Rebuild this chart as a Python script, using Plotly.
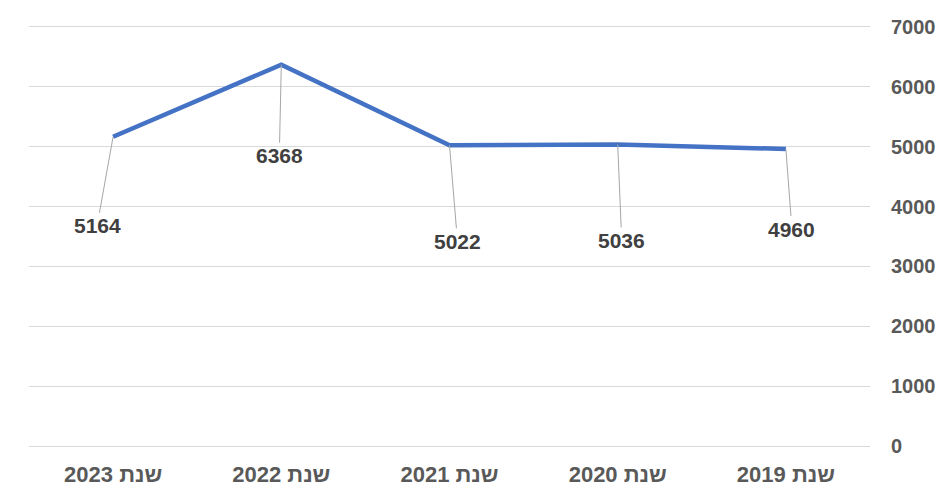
import plotly.graph_objects as go

# Yearly totals, shown newest year on the left
categories = ["שנת 2023", "שנת 2022", "שנת 2021", "שנת 2020", "שנת 2019"]
values = [5164, 6368, 5022, 5036, 4960]
y_ticks = [0, 1000, 2000, 3000, 4000, 5000, 6000, 7000]

# Pixel offsets of each value label from its point (leader-line callouts)
label_dx = [-16, -2, 8, 4, 6]
label_dy = [89, 91, 96, 96, 80]

fig = go.Figure()
fig.add_trace(go.Scatter(
    x=categories,
    y=values,
    mode="lines",
    line=dict(color="#4472C4", width=4.5),
    hoverinfo="x+y",
    showlegend=False,
))

for cat, val, dx, dy in zip(categories, values, label_dx, label_dy):
    fig.add_annotation(
        x=cat, y=val, xref="x", yref="y",
        text=str(val),
        showarrow=True, arrowhead=0, arrowwidth=1, arrowcolor="#A6A6A6",
        ax=dx, ay=dy, standoff=0, startstandoff=0,
        font=dict(family="Liberation Sans, Arial", size=21, color="#404040", weight="bold"),
    )

fig.update_layout(
    width=950, height=497,
    margin=dict(l=29, r=80, t=25, b=49),
    paper_bgcolor="white",
    plot_bgcolor="white",
    xaxis=dict(
        type="category",
        categoryorder="array", categoryarray=categories,
        range=[-0.5, len(categories) - 0.5],
        showgrid=False, zeroline=False, showline=False,
        tickfont=dict(family="Liberation Sans, Arial", size=22, color="#595959", weight="bold"),
        ticklabelstandoff=11,
        automargin=False,
    ),
    yaxis=dict(
        side="right",
        range=[-30, 7030],
        tickvals=y_ticks,
        ticktext=[str(t) for t in y_ticks],
        showgrid=True, gridcolor="#D9D9D9", gridwidth=1,
        zeroline=False, showline=False,
        tickfont=dict(family="Liberation Sans, Arial", size=20, color="#595959", weight="bold"),
        ticklabelstandoff=20,
        automargin=False,
    ),
)

fig.write_html("out.html")
